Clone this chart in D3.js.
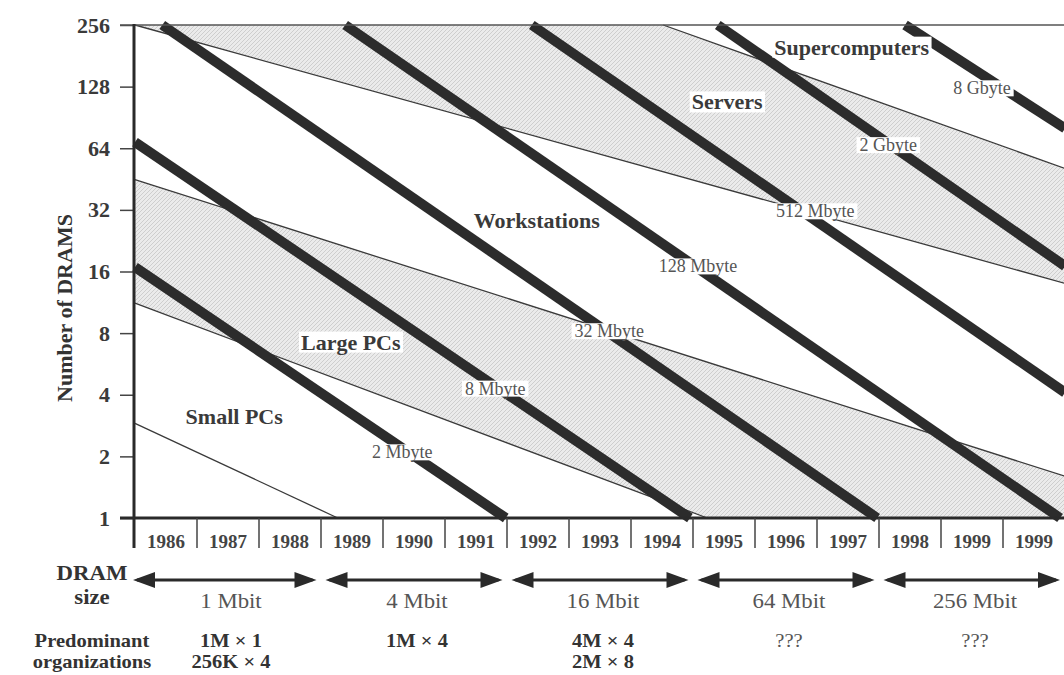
<!DOCTYPE html>
<html><head><meta charset="utf-8">
<script src="https://cdn.jsdelivr.net/npm/d3@7"></script>
<style>body{margin:0;background:#fff}svg{display:block}</style>
</head><body>
<svg id="c" width="1064" height="675"></svg>
<script>
// ---------- data ----------
const yearLabels = ["1986","1987","1988","1989","1990","1991","1992","1993","1994","1995","1996","1997","1998","1999","1999"];
const yTicks = [1, 2, 4, 8, 16, 32, 64, 128, 256];

// thin boundary lines between machine classes: [year, number of DRAMs]
const smallPCsLow   = [[1986, 2.9],  [1989.27, 1]];
const smallPCsHigh  = [[1986, 11.2], [1995.23, 1]];
const largePCsHigh  = [[1986, 45],   [2001, 1.6]];
const workstHigh    = [[1986, 256],  [2001, 14]];
const serversHigh   = [[1994.52, 256], [2001, 51]];

// constant memory-size lines
const memoryLines = [
  {label: "2 Mbyte",   pts: [[1986, 16.8],  [1991.98, 1]], at: [1990.31, 2.1]},
  {label: "8 Mbyte",   pts: [[1986, 68.5],  [1994.95, 1]], at: [1991.81, 4.3]},
  {label: "32 Mbyte",  pts: [[1986.44, 256], [1997.97, 1]], at: [1993.65, 8.2]},
  {label: "128 Mbyte", pts: [[1989.39, 256], [2000.92, 1]], at: [1995.08, 17]},
  {label: "512 Mbyte", pts: [[1992.40, 256], [2001, 4.1]],  at: [1996.97, 31.6]},
  {label: "2 Gbyte",   pts: [[1995.40, 256], [2001, 17]],   at: [1998.15, 66.5]},
  {label: "8 Gbyte",   pts: [[1998.42, 256], [2001, 80]],   at: [1999.66, 126]}
];

const regionNames = ["Small PCs", "Large PCs", "Workstations", "Servers", "Supercomputers"];
const regionPos   = [[1987.6, 3.15], [1989.48, 7.25], [1992.48, 28.6], [1995.55, 108], [1997.56, 200]];

const eraBounds = [1986, 1989, 1992, 1995, 1998, 2001];
const eraSizes  = ["1 Mbit", "4 Mbit", "16 Mbit", "64 Mbit", "256 Mbit"];
const eraOrgs   = [["1M × 1", "256K × 4"], ["1M × 4"], ["4M × 4", "2M × 8"], ["???"], ["???"]];

// ---------- drawing ----------
const F = "'Liberation Serif','Times New Roman',serif";
const svg = d3.select("#c");
const x = d3.scaleLinear().domain([1986, 2001]).range([135, 1065]);
const y = d3.scaleLog().base(2).domain([1, 256]).range([518, 25]);
const P = d => [x(d[0]), y(d[1])];
const line = d3.line().x(d => x(d[0])).y(d => y(d[1]));

const defs = svg.append("defs");
const pat = defs.append("pattern").attr("id", "hatch").attr("width", 4).attr("height", 4)
  .attr("patternUnits", "userSpaceOnUse");
pat.append("rect").attr("width", 4).attr("height", 4).attr("fill", "#ebebeb");
pat.append("path").attr("d", "M-1,1 l2,-2 M0,4 l4,-4 M3,5 l2,-2")
  .attr("stroke", "#c6c6c6").attr("stroke-width", 0.8);

// shaded regions
const largePoly = [...largePCsHigh, [2001, 1], smallPCsHigh[1], smallPCsHigh[0]];
const serverPoly = [workstHigh[0], serversHigh[0], serversHigh[1], workstHigh[1], workstHigh[0]];
[largePoly, serverPoly].forEach(poly => {
  svg.append("path").attr("d", "M" + poly.map(P).join("L") + "Z").attr("fill", "url(#hatch)");
});

// thin lines
[smallPCsLow, smallPCsHigh, largePCsHigh, workstHigh, serversHigh].forEach(l => {
  svg.append("path").attr("d", line(l)).attr("fill", "none")
    .attr("stroke", "#3a3a3a").attr("stroke-width", 1.3);
});

// thick memory lines
memoryLines.forEach(m => {
  svg.append("path").attr("d", line(m.pts)).attr("fill", "none")
    .attr("stroke", "#2c2c2c").attr("stroke-width", 10).attr("stroke-linecap", "butt");
});

function boxedText(g, tx, ty, txt, size, weight, color, padX, padY) {
  const bg = g.append("rect").attr("fill", "#fff");
  const t = g.append("text").attr("x", tx).attr("y", ty).attr("dy", "0.35em")
    .attr("text-anchor", "middle").attr("font-family", F).attr("font-size", size)
    .attr("font-weight", weight).attr("fill", color).text(txt);
  const b = t.node().getBBox();
  bg.attr("x", b.x - padX).attr("y", b.y + padY).attr("width", b.width + 2 * padX)
    .attr("height", b.height - 2 * padY);
}

// memory line labels
const labG = svg.append("g");
memoryLines.forEach(m => {
  const [lx, ly] = P(m.at);
  boxedText(labG, lx, ly, m.label, 18, "normal", "#555", 3, 2);
});

// region labels
const regG = svg.append("g");
regionNames.forEach((n, i) => {
  const [lx, ly] = P(regionPos[i]);
  boxedText(regG, lx, ly, n, 22, "bold", "#3a3a3a", 2, 2);
});

// y axis
const yAx = svg.append("g").attr("transform", "translate(134,0)")
  .call(d3.axisLeft(y).tickValues(yTicks).tickFormat(d3.format("d")).tickSize(14).tickPadding(10).tickSizeOuter(0));
yAx.select(".domain").remove();
yAx.selectAll(".tick line").attr("stroke", "#444").attr("stroke-width", 1.5);
yAx.selectAll(".tick text").attr("font-family", F).attr("font-size", 22).attr("font-weight", "bold").attr("fill", "#3a3a3a");

// frame lines
svg.append("line").attr("x1", 120).attr("x2", 1064).attr("y1", 25).attr("y2", 25)
  .attr("stroke", "#555").attr("stroke-width", 1.5);
svg.append("line").attr("x1", 120).attr("x2", 1064).attr("y1", y(1)).attr("y2", y(1))
  .attr("stroke", "#2a2a2a").attr("stroke-width", 3);
svg.append("line").attr("x1", 134).attr("x2", 134).attr("y1", 24).attr("y2", 548)
  .attr("stroke", "#2a2a2a").attr("stroke-width", 3);

// year cells
const band = d3.scaleBand().domain(d3.range(yearLabels.length)).range([x(1986), x(2001)]);
const xAx = svg.append("g").attr("transform", `translate(0,${y(1)})`)
  .call(d3.axisBottom(band).tickSize(0).tickPadding(17).tickFormat(i => yearLabels[i]));
xAx.select(".domain").remove();
xAx.selectAll("text").attr("font-family", F).attr("font-size", 19).attr("font-weight", "bold").attr("fill", "#444");
d3.range(1987, 2001).forEach(yr => {
  svg.append("line").attr("x1", x(yr)).attr("x2", x(yr)).attr("y1", y(1)).attr("y2", 548)
    .attr("stroke", "#444").attr("stroke-width", 1.5);
});

// wide text helper (the scanned type is a little wider than the font)
const wideText = (tx, ty, txt, fs, weight, color) => svg.append("text")
  .attr("transform", `translate(${tx},${ty}) scale(1.14,1)`).attr("text-anchor", "middle")
  .attr("font-family", F).attr("font-size", fs).attr("font-weight", weight).attr("fill", color).text(txt);

// left-side row titles
wideText(92, 580, "DRAM", 20, "bold", "#333");
wideText(92, 604, "size", 20, "bold", "#333");
wideText(92, 647, "Predominant", 18, "bold", "#333");
wideText(92, 668, "organizations", 18, "bold", "#333");

// y axis title
svg.append("text").attr("transform", "translate(72,308) rotate(-90)").attr("text-anchor", "middle")
  .attr("font-family", F).attr("font-size", 22).attr("font-weight", "bold").attr("fill", "#333")
  .text("Number of DRAMS");

// DRAM size arrows
const ay = 580, aL = 22, aW = 8;
const arrG = svg.append("g").attr("fill", "#2a2a2a").attr("stroke", "#2a2a2a");
eraSizes.forEach((s, i) => {
  const x0 = i === 0 ? x(eraBounds[i]) - 2 : x(eraBounds[i]) + 4.5;
  const x1 = x(eraBounds[i + 1]) - (i === eraSizes.length - 1 ? 5 : 4.5);
  arrG.append("line").attr("x1", x0 + 4).attr("x2", x1 - 4).attr("y1", ay).attr("y2", ay).attr("stroke-width", 3);
  arrG.append("path").attr("stroke", "none").attr("d", `M${x0},${ay}L${x0 + aL},${ay - aW}L${x0 + aL},${ay + aW}Z`);
  arrG.append("path").attr("stroke", "none").attr("d", `M${x1},${ay}L${x1 - aL},${ay - aW}L${x1 - aL},${ay + aW}Z`);
  const cx = x((eraBounds[i] + eraBounds[i + 1]) / 2) + 3;
  wideText(cx, 608, s, 20, "normal", "#555");
  eraOrgs[i].forEach((o, j) => {
    wideText(cx, 647 + j * 21, o, 18, o === "???" ? "normal" : "bold", o === "???" ? "#555" : "#333");
  });
});
</script>
</body></html>
